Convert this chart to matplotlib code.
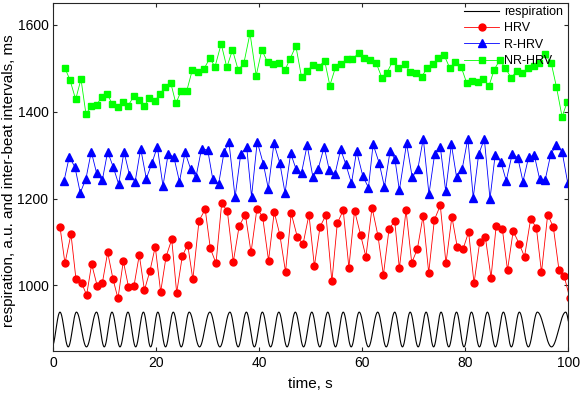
import matplotlib
matplotlib.use('Agg')
import matplotlib.pyplot as plt
import numpy as np

plt.rcParams['font.family'] = ['Liberation Sans', 'DejaVu Sans']
plt.rcParams['font.size'] = 10

# respiration peak times (s), centre and amplitude of the trace
resp_peaks = [-1.8, 1.3, 4.5, 8.4, 11.4, 14.5, 17.5, 20.3, 23.3, 26.4, 30.4, 34.3,
              37.5, 40.6, 43.8, 47.0, 50.2, 53.3, 56.3, 59.4, 63.0, 66.3, 69.3,
              72.4, 75.3, 78.3, 81.2, 84.3, 87.4, 90.5, 94.0, 99.5, 102.5]
resp_mid = 898.5
resp_amp = 40.0

hrv_t = [1.30, 2.27, 3.44, 4.41, 5.51, 6.48, 7.45, 8.55, 9.52, 10.56, 11.59, 12.56,
         13.6, 14.6, 15.67, 16.7, 17.7, 18.78, 19.8, 20.85, 21.9, 23.0, 23.96, 25.05,
         26.1, 27.1, 28.3, 29.5, 30.5, 31.6, 32.7, 33.8, 34.95, 36.1, 37.3, 38.4,
         39.55, 40.65, 41.8, 42.9, 44.0, 45.1, 46.2, 47.4, 48.5, 49.65, 50.7, 51.8,
         52.95, 54.1, 55.15, 56.3, 57.4, 58.5, 59.7, 60.7, 61.9, 63.05, 64.1, 65.2,
         66.3, 67.2, 68.5, 69.6, 70.7, 71.8, 72.9, 74.0, 75.15, 76.25, 77.4, 78.45,
         79.55, 80.65, 81.7, 82.8, 83.9, 85.0, 86.0, 87.2, 88.2, 89.3, 90.5, 91.5,
         92.7, 93.8, 94.8, 96.0, 97.1, 98.2, 99.2, 100.3]
hrv = [1135, 1051, 1118, 1014, 1005, 978, 1049, 998, 1005, 1076, 1015, 970,
       1056, 997, 999, 1070, 989, 1034, 1089, 985, 1066, 1106, 983, 1067,
       1094, 1014, 1149, 1175, 1085, 1051, 1189, 1171, 1054, 1137, 1163, 1076,
       1177, 1158, 1057, 1169, 1116, 1031, 1166, 1111, 1095, 1163, 1044, 1135,
       1162, 1009, 1143, 1173, 1041, 1172, 1115, 1066, 1179, 1114, 1024, 1130,
       1148, 1039, 1173, 1052, 1084, 1160, 1029, 1151, 1184, 1051, 1158, 1088,
       1083, 1123, 1005, 1100, 1111, 1018, 1137, 1130, 1035, 1125, 1095, 1066,
       1153, 1133, 1030, 1163, 1134, 1035, 1022, 970]

rhrv_t = [2.08, 3.11, 4.21, 5.24, 6.35, 7.38, 8.42, 9.52, 10.56, 11.65, 12.7, 13.73,
          14.8, 15.9, 16.97, 18.06, 19.17, 20.2, 21.3, 22.3, 23.4, 24.5, 25.6, 26.7,
          27.7, 28.8, 30.0, 30.95, 32.1, 33.15, 34.1, 35.3, 36.4, 37.55, 38.5, 39.6,
          40.8, 41.75, 42.85, 44.0, 45.0, 46.1, 47.1, 48.2, 49.3, 50.4, 51.45, 52.6,
          53.6, 54.7, 55.8, 56.8, 57.9, 58.9, 60.1, 61.2, 62.1, 63.3, 64.3, 65.4,
          66.35, 67.2, 68.6, 69.7, 70.8, 71.85, 72.95, 74.05, 75.15, 76.2, 77.3, 78.3,
          79.4, 80.5, 81.55, 82.6, 83.7, 84.8, 85.8, 86.9, 87.95, 89.1, 90.2, 91.2,
          92.3, 93.4, 94.45, 95.5, 96.6, 97.7, 98.8, 99.9]
rhrv = [1240, 1296, 1272, 1213, 1246, 1308, 1258, 1242, 1308, 1272, 1233, 1308,
        1254, 1239, 1315, 1246, 1282, 1319, 1229, 1302, 1296, 1239, 1306, 1267,
        1249, 1315, 1311, 1246, 1233, 1306, 1331, 1203, 1302, 1319, 1204, 1331,
        1279, 1223, 1327, 1281, 1213, 1304, 1269, 1259, 1323, 1250, 1269, 1319,
        1265, 1256, 1313, 1279, 1235, 1309, 1252, 1225, 1325, 1281, 1227, 1309,
        1290, 1219, 1327, 1249, 1269, 1338, 1210, 1302, 1319, 1217, 1325, 1250,
        1268, 1338, 1202, 1302, 1337, 1199, 1300, 1285, 1241, 1302, 1294, 1239,
        1295, 1300, 1244, 1242, 1302, 1323, 1308, 1235]

nrhrv_t = [2.27, 3.24, 4.35, 5.38, 6.35, 7.38, 8.42, 9.46, 10.5, 11.46, 12.5, 13.53,
           14.57, 15.6, 16.64, 17.68, 18.65, 19.7, 20.7, 21.75, 22.8, 23.8, 24.85, 25.9,
           27.0, 28.15, 29.2, 30.4, 31.4, 32.6, 33.7, 34.8, 35.9, 37.0, 38.2, 39.4,
           40.5, 41.6, 42.7, 43.8, 45.0, 46.0, 47.1, 48.2, 49.3, 50.4, 51.5, 52.7,
           53.7, 54.8, 55.9, 57.0, 58.1, 59.3, 60.4, 61.55, 62.7, 63.8, 64.8, 65.95,
           67.0, 68.2, 69.3, 70.4, 71.5, 72.6, 73.7, 74.8, 75.9, 77.0, 78.1, 79.2,
           80.3, 81.4, 82.5, 83.5, 84.6, 85.6, 86.7, 87.8, 88.9, 90.0, 91.1, 92.2,
           93.3, 94.3, 95.5, 96.7, 97.7, 98.8, 99.75]
nrhrv = [1500, 1473, 1428, 1475, 1394, 1413, 1416, 1434, 1440, 1417, 1411, 1421,
         1414, 1435, 1427, 1413, 1431, 1424, 1441, 1457, 1467, 1419, 1448, 1447,
         1496, 1492, 1497, 1523, 1503, 1556, 1502, 1542, 1496, 1511, 1580, 1483,
         1542, 1514, 1509, 1512, 1496, 1522, 1551, 1480, 1493, 1508, 1503, 1517,
         1460, 1502, 1510, 1520, 1522, 1534, 1523, 1519, 1512, 1478, 1490, 1517,
         1500, 1510, 1492, 1490, 1480, 1500, 1510, 1524, 1530, 1500, 1515, 1503,
         1465, 1471, 1469, 1475, 1459, 1496, 1519, 1500, 1478, 1493, 1488, 1500,
         1506, 1511, 1532, 1511, 1457, 1388, 1421]

# respiration trace: phase advances one cycle between successive peaks
t = np.linspace(0, 100, 3000)
phase = np.interp(t, resp_peaks, 2 * np.pi * np.arange(len(resp_peaks)))
resp = resp_mid + resp_amp * np.cos(phase)

fig = plt.figure(figsize=(5.81, 3.94), dpi=100)
ax = fig.add_axes([0.0917, 0.1091, 0.8864, 0.8833])

ax.plot(t, resp, color='black', linewidth=0.8, label='respiration')
ax.plot(hrv_t, hrv, '-o', color='red', linewidth=0.6, markersize=5,
        markerfacecolor='red', markeredgecolor='red', label='HRV')
ax.plot(rhrv_t, rhrv, '-^', color='blue', linewidth=0.6, markersize=6,
        markerfacecolor='blue', markeredgecolor='blue', label='R-HRV')
ax.plot(nrhrv_t, nrhrv, '-s', color='#00ff00', linewidth=0.6, markersize=4.5,
        markerfacecolor='#00ff00', markeredgecolor='#00ff00', label='NR-HRV')

ax.set_xlim(0, 100)
ax.set_ylim(849, 1650)
ax.set_xticks([0, 20, 40, 60, 80, 100])
ax.set_yticks([1000, 1200, 1400, 1600])
ax.tick_params(direction='in', length=3, top=True, right=True, colors='#262626',
               labelsize=10, labelcolor='black')
for s in ax.spines.values():
    s.set_color('#262626')
    s.set_linewidth(0.8)

ax.set_xlabel('time, s', fontsize=11, labelpad=5)
ax.set_ylabel('respiration, a.u. and inter-beat intervals, ms', fontsize=11)
ax.yaxis.set_label_coords(-0.072, 0.49)

ax.legend(loc='upper right', frameon=False, fontsize=9, handlelength=2.8,
          labelspacing=0.35, borderaxespad=0.0, handletextpad=0.4,
          bbox_to_anchor=(1.0, 1.006))

fig.savefig('out.png', dpi=100)
